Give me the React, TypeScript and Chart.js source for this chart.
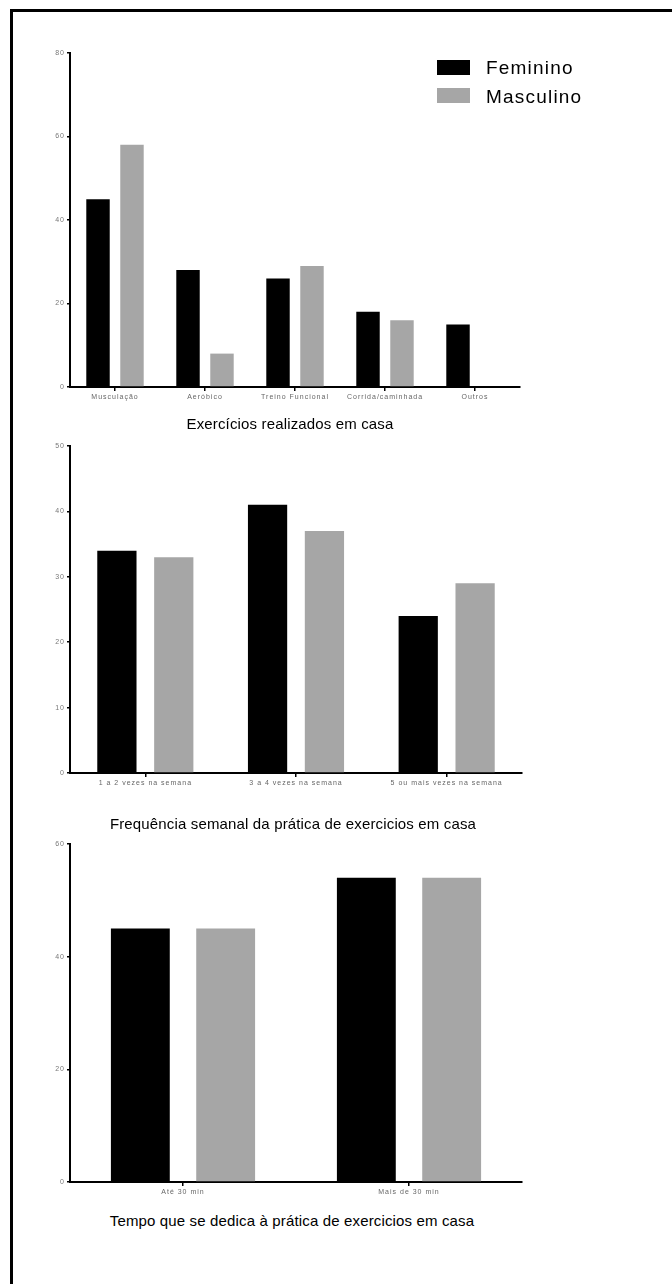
import React, { useEffect, useRef } from "react";
import { Chart, registerables } from "chart.js";

Chart.register(...registerables);

const seriesNames = ["Feminino", "Masculino"];
const seriesColors = ["#000000", "#a6a6a6"];

const cat1 = ["Musculação", "Aeróbico", "Treino Funcional", "Corrida/caminhada", "Outros"];
const fem1 = [45, 28, 26, 18, 15];
const masc1 = [58, 8, 29, 16, 0];
const yMax1 = 80;
const yStep1 = 20;
const title1 = "Exercícios realizados em casa";

const cat2 = ["1 a 2 vezes na semana", "3 a 4 vezes na semana", "5 ou mais vezes na semana"];
const fem2 = [34, 41, 24];
const masc2 = [33, 37, 29];
const yMax2 = 50;
const yStep2 = 10;
const title2 = "Frequência semanal da prática de exercicios em casa";

const cat3 = ["Até 30 min", "Mais de 30 min"];
const fem3 = [45, 54];
const masc3 = [45, 54];
const yMax3 = 60;
const yStep3 = 20;
const title3 = "Tempo que se dedica à prática de exercicios em casa";

const spacingPlugin = {
  id: "letterSpacingPlugin",
  beforeDraw(chart: any) {
    chart.ctx.letterSpacing = "1px";
  },
  afterDraw(chart: any) {
    chart.ctx.letterSpacing = "0px";
  },
};

type BarProps = {
  labels: string[];
  fem: number[];
  masc: number[];
  yMax: number;
  yStep: number;
  top: number;
  width: number;
  height: number;
  padTop: number;
  padRight: number;
};

function BarChart(p: BarProps) {
  const ref = useRef<HTMLCanvasElement | null>(null);
  useEffect(() => {
    if (!ref.current) return;
    const chart = new Chart(ref.current, {
      type: "bar",
      data: {
        labels: p.labels,
        datasets: [
          {
            label: seriesNames[0],
            data: p.fem,
            backgroundColor: seriesColors[0],
            borderWidth: 0,
            categoryPercentage: 0.755,
            barPercentage: 0.69,
          },
          {
            label: seriesNames[1],
            data: p.masc,
            backgroundColor: seriesColors[1],
            borderWidth: 0,
            categoryPercentage: 0.755,
            barPercentage: 0.69,
          },
        ],
      },
      options: {
        responsive: false,
        animation: false,
        layout: { padding: { top: p.padTop, right: p.padRight, bottom: 0, left: 0 } },
        plugins: {
          legend: { display: false },
          tooltip: { enabled: false },
          title: { display: false },
        },
        scales: {
          x: {
            afterFit: (scale: any) => {
              scale.height = 22;
            },
            grid: {
              display: true,
              offset: false,
              drawOnChartArea: false,
              drawTicks: true,
              tickLength: 4,
              color: "#000",
              lineWidth: 1.5,
            },
            border: { display: true, color: "#000", width: 2 },
            ticks: {
              color: "#666",
              font: { family: "Liberation Sans, Arial, sans-serif", size: 7 },
              padding: 2,
              maxRotation: 0,
              autoSkip: false,
            },
          },
          y: {
            min: 0,
            max: p.yMax,
            afterFit: (scale: any) => {
              scale.width = 70;
            },
            grid: {
              display: true,
              drawOnChartArea: false,
              drawTicks: true,
              tickLength: 3,
              color: "#000",
              lineWidth: 1.5,
            },
            border: { display: true, color: "#000", width: 2 },
            ticks: {
              stepSize: p.yStep,
              color: "#777",
              font: { family: "Liberation Sans, Arial, sans-serif", size: 7 },
              padding: 2,
            },
          },
        },
      },
      plugins: [spacingPlugin],
    });
    return () => chart.destroy();
  }, []);
  return (
    <canvas
      ref={ref}
      width={p.width}
      height={p.height}
      style={{ position: "absolute", left: 0, top: p.top, width: p.width, height: p.height }}
    />
  );
}

const titleStyle = (top: number, center: number): React.CSSProperties => ({
  position: "absolute",
  top,
  left: center - 300,
  width: 600,
  textAlign: "center",
  fontFamily: "Liberation Sans, Arial, sans-serif",
  fontSize: 15,
  lineHeight: "17px",
  letterSpacing: "0.15px",
  color: "#000",
  whiteSpace: "nowrap",
});

const legendText = (top: number): React.CSSProperties => ({
  position: "absolute",
  left: 486,
  top,
  fontFamily: "Liberation Sans, Arial, sans-serif",
  fontSize: 19,
  lineHeight: "22px",
  letterSpacing: "1.2px",
  color: "#000",
  whiteSpace: "nowrap",
});

export default function App() {
  return (
    <div
      style={{
        position: "absolute",
        left: 0,
        top: 0,
        width: 672,
        height: 1284,
        background: "#fff",
        overflow: "hidden",
      }}
    >
      <div
        style={{
          position: "absolute",
          left: 10,
          top: 9,
          right: -10,
          bottom: -10,
          borderLeft: "3px solid #000",
          borderTop: "3px solid #000",
        }}
      />
      <BarChart labels={cat1} fem={fem1} masc={masc1} yMax={yMax1} yStep={yStep1} top={40} width={560} height={369} padTop={13} padRight={40} />
      <BarChart labels={cat2} fem={fem2} masc={masc2} yMax={yMax2} yStep={yStep2} top={430} width={560} height={365} padTop={16} padRight={38} />
      <BarChart labels={cat3} fem={fem3} masc={masc3} yMax={yMax3} yStep={yStep3} top={830} width={560} height={374} padTop={14} padRight={38} />

      <div style={{ position: "absolute", left: 437, top: 60, width: 33, height: 15, background: seriesColors[0] }} />
      <div style={legendText(57)}>{seriesNames[0]}</div>
      <div style={{ position: "absolute", left: 437, top: 88, width: 33, height: 15, background: seriesColors[1] }} />
      <div style={legendText(86)}>{seriesNames[1]}</div>

      <div style={titleStyle(415, 290)}>{title1}</div>
      <div style={titleStyle(814.5, 293)}>{title2}</div>
      <div style={titleStyle(1211.5, 292)}>{title3}</div>
    </div>
  );
}
